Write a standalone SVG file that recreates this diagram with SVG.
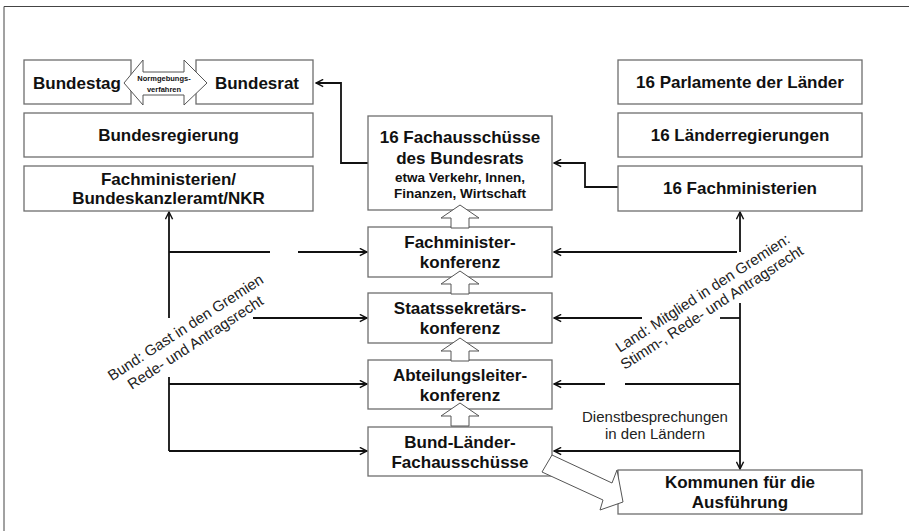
<svg xmlns="http://www.w3.org/2000/svg" width="909" height="531" viewBox="0 0 909 531">
<defs>
<style>
.box{fill:#fff;stroke:#6e6e6e;stroke-width:1.3}
.t{font-family:"Liberation Sans",Arial,sans-serif;font-weight:bold;font-size:17px;fill:#111;text-anchor:middle}
.s{font-size:13.5px}
.r{font-family:"Liberation Sans",Arial,sans-serif;font-size:15px;fill:#222;text-anchor:middle}
.c{fill:none;stroke:#111;stroke-width:1.8}
.blk{fill:#fff;stroke:#555;stroke-width:1}
</style>
<marker id="arr" viewBox="0 0 10 10" refX="9" refY="5" markerWidth="9" markerHeight="9" markerUnits="userSpaceOnUse" orient="auto">
<path d="M1,1 L9,5 L1,9" fill="none" stroke="#111" stroke-width="1.6"/>
</marker>
<path id="up" d="M0,0 L19,13 L9,13 L9,23 L-9,23 L-9,13 L-19,13 Z"/>
</defs>
<path d="M4,531 V6.5 H909" fill="none" stroke="#444" stroke-width="1"/>

<g id="connectors">
<path class="c" stroke-width="1.5" d="M368,163 H341 V83 H316" marker-end="url(#arr)"/>
<path class="c" stroke-width="1.5" d="M618,187 H585 V163 H554" marker-end="url(#arr)"/>
<path class="c" stroke-width="2.2" d="M169,318 V212" marker-end="url(#arr)"/>
<path class="c" stroke-width="2.2" d="M169,377 V451"/>
<path class="c" d="M169,252 H270"/>
<path class="c" d="M298,252 H367" marker-end="url(#arr)"/>
<path class="c" d="M253,318 H367" marker-end="url(#arr)"/>
<path class="c" d="M169,384 H367" marker-end="url(#arr)"/>
<path class="c" d="M169,451 H367" marker-end="url(#arr)"/>
<path class="c" stroke-width="2.2" d="M740,252 V212" marker-end="url(#arr)"/>
<path class="c" stroke-width="2.2" d="M740,303 V403"/>
<path class="c" stroke-width="1.5" d="M740,403 V469" marker-end="url(#arr)"/>
<path class="c" d="M737,252 H554" marker-end="url(#arr)"/>
<path class="c" d="M740,318 H720"/>
<path class="c" d="M642,318 H554" marker-end="url(#arr)"/>
<path class="c" d="M740,384 H625"/>
<path class="c" d="M605,384 H554" marker-end="url(#arr)"/>
<path class="c" d="M740,451 H554" marker-end="url(#arr)"/>
</g>

<g id="bundestag"><rect class="box" x="24" y="60" width="107" height="44"/><text class="t" x="77" y="89">Bundestag</text></g>
<g id="bundesrat"><rect class="box" x="196" y="60" width="117" height="44"/><text class="t" x="257" y="89">Bundesrat</text></g>
<g id="normgebung">
<polygon class="blk" points="124,83 143,60 143,72 184,72 184,60 207,83 184,105 184,95 143,95 143,105"/>
<text class="t" x="164" y="81" style="font-size:7.5px">Normgebungs-</text>
<text class="t" x="164" y="92" style="font-size:7.5px">verfahren</text>
</g>
<g id="bundesregierung"><rect class="box" x="24" y="113" width="289" height="44"/><text class="t" x="168.5" y="141">Bundesregierung</text></g>
<g id="fachministerien-bund"><rect class="box" x="24" y="166" width="289" height="45"/><text class="t" x="168.5" y="185">Fachministerien/</text><text class="t" x="168.5" y="204">Bundeskanzleramt/NKR</text></g>

<g id="parlamente"><rect class="box" x="618" y="60" width="244" height="44"/><text class="t" x="740" y="88">16 Parlamente der Länder</text></g>
<g id="laenderregierungen"><rect class="box" x="618" y="113" width="244" height="44"/><text class="t" x="740" y="141">16 Länderregierungen</text></g>
<g id="fachministerien-land"><rect class="box" x="618" y="166" width="244" height="45"/><text class="t" x="740" y="194">16 Fachministerien</text></g>

<g id="fachausschuesse"><rect class="box" x="368" y="116" width="184" height="94"/>
<text class="t" x="460" y="143">16 Fachausschüsse</text>
<text class="t" x="460" y="164">des Bundesrats</text>
<text class="t s" x="460" y="182">etwa Verkehr, Innen,</text>
<text class="t s" x="460" y="198">Finanzen, Wirtschaft</text></g>
<g id="fachministerkonferenz"><rect class="box" x="368" y="227" width="184" height="50"/><text class="t" x="460" y="248">Fachminister-</text><text class="t" x="460" y="268">konferenz</text></g>
<g id="staatssekretaerskonferenz"><rect class="box" x="368" y="293" width="184" height="50"/><text class="t" x="460" y="314">Staatssekretärs-</text><text class="t" x="460" y="334">konferenz</text></g>
<g id="abteilungsleiterkonferenz"><rect class="box" x="368" y="360" width="184" height="49"/><text class="t" x="460" y="381">Abteilungsleiter-</text><text class="t" x="460" y="401">konferenz</text></g>
<g id="bund-laender"><rect class="box" x="368" y="427" width="184" height="49"/><text class="t" x="460" y="448">Bund-Länder-</text><text class="t" x="460" y="468">Fachausschüsse</text></g>
<g id="kommunen"><rect class="box" x="618" y="470" width="244" height="44"/><text class="t" x="740" y="488">Kommunen für die</text><text class="t" x="740" y="508">Ausführung</text></g>

<g id="blockarrows">
<use href="#up" class="blk" x="460" y="205"/>
<use href="#up" class="blk" x="460" y="271"/>
<use href="#up" class="blk" x="460" y="338"/>
<use href="#up" class="blk" x="460" y="403"/>
<polygon class="blk" points="542,472 552,455 612,483 617,470 623,502 600,510 603,500"/>
</g>

<g id="labels">
<text class="r" x="655" y="422">Dienstbesprechungen</text>
<text class="r" x="655" y="439">in den Ländern</text>
<g transform="translate(190.5,335) rotate(-33)">
<text class="r" x="0" y="-4">Bund: Gast in den Gremien</text>
<text class="r" x="0" y="14">Rede- und Antragsrecht</text>
</g>
<g transform="translate(707,300) rotate(-33)">
<text class="r" x="0" y="-3">Land: Mitglied in den Gremien:</text>
<text class="r" x="0" y="14">Stimm-, Rede- und Antragsrecht</text>
</g>
</g>
</svg>
